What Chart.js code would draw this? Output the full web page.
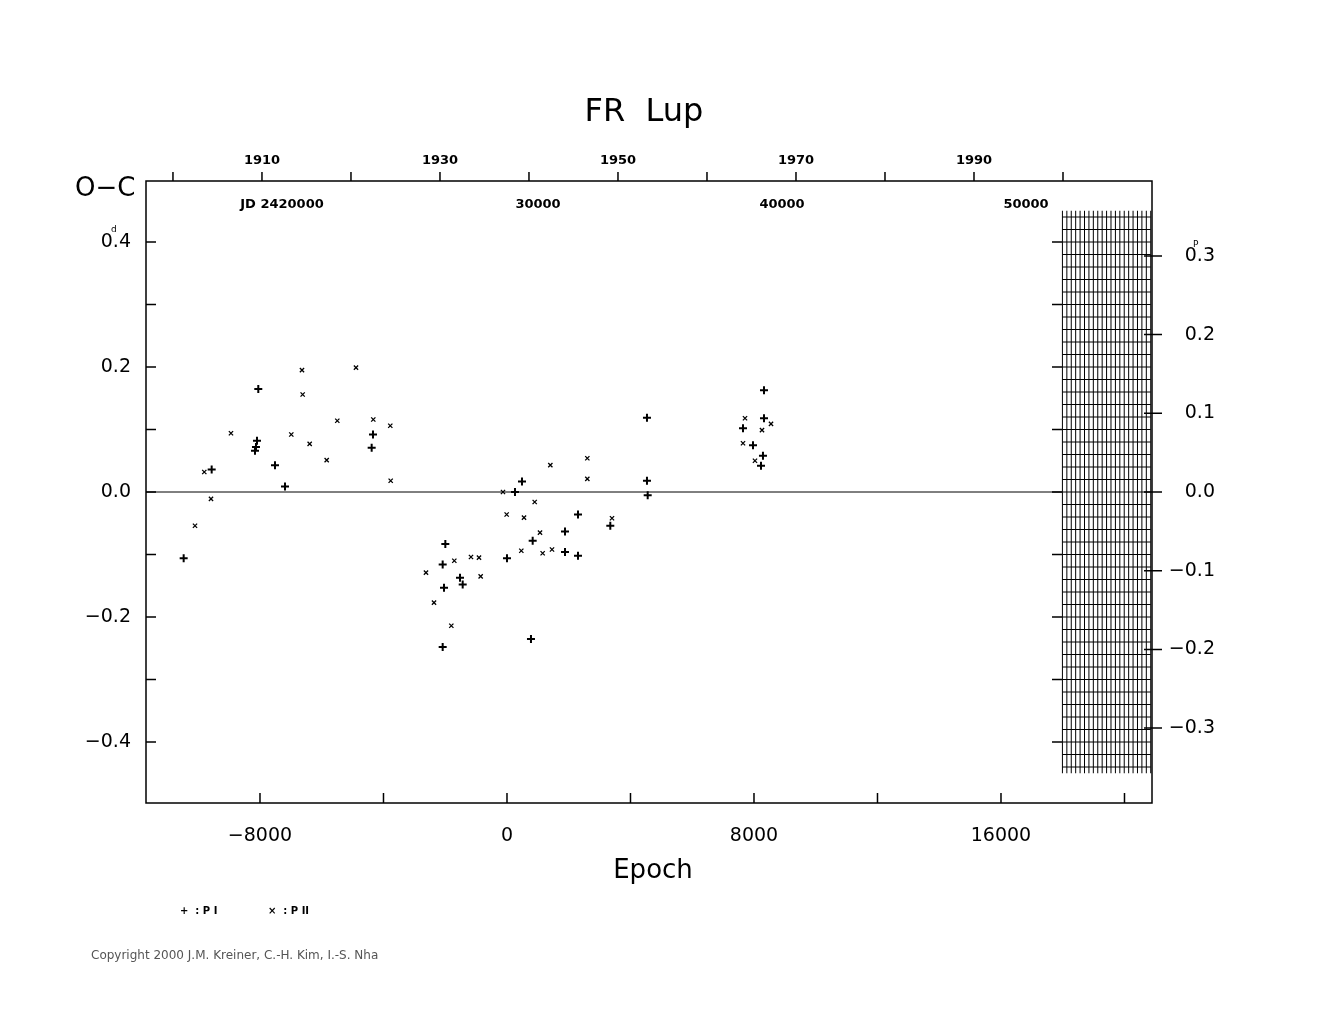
<!DOCTYPE html>
<html>
<head>
<meta charset="utf-8">
<script src="https://cdn.jsdelivr.net/npm/chart.js@4.4.0/dist/chart.umd.min.js"></script>
<style>
  body { margin: 0; background: #fff; }
  canvas { display: block; }
</style>
</head>
<body>
<canvas id="c" width="1325" height="1020"></canvas>
<script>
// FR Lup O-C diagram: epoch vs O-C (days), primary (+) and secondary (x) minima

const primEpoch = [-8055, -8097, -8130, -8162, -9565, -7514, -7190, -4340, -4383, -10472,
  -1997, -2083, -1522, -1435, -2040, -2083, 0, 259, 486, 832, 777, 1879, 1879, 2300, 2300, 3346,
  4534, 4557, 4534, 7644, 8324, 8324, 7968, 8291, 8227];
const primOC = [0.165, 0.082, 0.072, 0.066, 0.036, 0.043, 0.009, 0.092, 0.071, -0.106,
  -0.083, -0.116, -0.137, -0.148, -0.153, -0.248, -0.106, 0.0, 0.017, -0.078, -0.235, -0.063, -0.096, -0.036, -0.102, -0.054,
  0.018, -0.005, 0.119, 0.102, 0.163, 0.118, 0.075, 0.058, 0.042];

const secEpoch = [-9804, -9587, -10105, -8940, -6640, -6618, -6986, -6391, -5496, -5840, -4891, -4330, -3780, -3767,
  -2624, -2364, -1803, -1706, -1166, -907, -853, -130, -11, 551, 897, 464, 1069, 1155, 1458, 1404, 2602, 2602, 3401,
  7709, 7644, 8032, 8259, 8551];
const secOC = [0.032, -0.011, -0.054, 0.094, 0.195, 0.156, 0.092, 0.077, 0.114, 0.051, 0.199, 0.116, 0.106, 0.018,
  -0.129, -0.177, -0.214, -0.110, -0.104, -0.105, -0.135, 0.0, -0.036, -0.041, -0.016, -0.094, -0.065, -0.098, -0.092, 0.043, 0.054, 0.021, -0.042,
  0.118, 0.078, 0.050, 0.099, 0.109];

const leftTicks = [0.4, 0.2, 0.0, -0.2, -0.4];
const leftMinor = [0.3, 0.1, -0.1, -0.3];
const rightTicks = [0.3, 0.2, 0.1, 0.0, -0.1, -0.2, -0.3];
const epochLabels = [-8000, 0, 8000, 16000];
const epochMinor = [-4000, 4000, 12000, 20000];
const yearTicks = [1900, 1910, 1920, 1930, 1940, 1950, 1960, 1970, 1980, 1990, 2000];
const yearLabels = [1910, 1930, 1950, 1970, 1990];
const jdLabels = [20000, 30000, 40000, 50000];

const toPts = (xs, ys) => xs.map((x, i) => ({ x, y: ys[i] }));

const FONT = "'DejaVu Sans', sans-serif";

const frame = {
  id: "frame",
  afterDraw(chart) {
    const { ctx, chartArea: a, scales } = chart;
    const x = scales.x, y = scales.y, y2 = scales.y2, yr = scales.yr, jd = scales.jd;
    ctx.save();
    ctx.strokeStyle = "#000";
    ctx.fillStyle = "#000";
    ctx.lineWidth = 1.5;
    ctx.strokeRect(a.left, a.top, a.right - a.left, a.bottom - a.top);

    // zero line
    ctx.lineWidth = 1;
    ctx.beginPath();
    ctx.moveTo(a.left, y.getPixelForValue(0));
    ctx.lineTo(1062, y.getPixelForValue(0));
    ctx.stroke();

    // grid block on the right
    ctx.lineWidth = 1;
    ctx.beginPath();
    for (let e = 17990; e <= 20850; e += 143) {
      const px = x.getPixelForValue(e);
      ctx.moveTo(px, y.getPixelForValue(0.45));
      ctx.lineTo(px, y.getPixelForValue(-0.45));
    }
    for (let v = -0.44; v <= 0.4401; v += 0.02) {
      const py = y.getPixelForValue(v);
      ctx.moveTo(x.getPixelForValue(17990), py);
      ctx.lineTo(x.getPixelForValue(20850), py);
    }
    ctx.stroke();

    ctx.lineWidth = 1.5;
    ctx.beginPath();
    [...leftTicks, ...leftMinor].forEach(v => {
      const py = y.getPixelForValue(v);
      ctx.moveTo(a.left, py); ctx.lineTo(a.left + 10, py);
      ctx.moveTo(1052, py); ctx.lineTo(1062, py);
    });
    rightTicks.forEach(v => {
      const py = y2.getPixelForValue(v);
      ctx.moveTo(a.right - 8, py); ctx.lineTo(a.right + 10, py);
    });
    [...epochLabels, ...epochMinor].forEach(v => {
      const px = x.getPixelForValue(v);
      ctx.moveTo(px, a.bottom); ctx.lineTo(px, a.bottom - 10);
    });
    yearTicks.forEach(v => {
      const px = yr.getPixelForValue(v);
      ctx.moveTo(px, a.top); ctx.lineTo(px, a.top - 9);
    });
    ctx.stroke();

    // labels
    ctx.textBaseline = "middle";
    ctx.font = "19px " + FONT;
    ctx.textAlign = "right";
    leftTicks.forEach(v => {
      ctx.fillText(v.toFixed(1).replace("-", "\u2212"), 131, y.getPixelForValue(v));
    });
    rightTicks.forEach(v => {
      ctx.fillText(v.toFixed(1).replace("-", "\u2212"), 1215, y2.getPixelForValue(v));
    });
    ctx.textAlign = "left";
    ctx.font = "9px " + FONT;
    ctx.fillText("d", 111, y.getPixelForValue(0.4) - 12);
    ctx.fillText("P", 1193, y2.getPixelForValue(0.3) - 11);

    ctx.font = "19px " + FONT;
    ctx.textAlign = "center";
    epochLabels.forEach(v => {
      ctx.fillText(v === 0 ? "0" : String(v).replace("-", "\u2212"), x.getPixelForValue(v), 836);
    });

    ctx.font = "bold 13px " + FONT;
    yearLabels.forEach(v => ctx.fillText(String(v), yr.getPixelForValue(v), 161));
    jdLabels.forEach(v => {
      const s = v === 20000 ? "JD 2420000" : String(v);
      ctx.fillText(s, jd.getPixelForValue(v) - (v === 20000 ? 12 : 0), 205);
    });

    ctx.font = "32px " + FONT;
    ctx.fillText("FR  Lup", 644, 113);
    ctx.font = "26px " + FONT;
    ctx.fillText("Epoch", 653, 871);
    ctx.textAlign = "left";
    ctx.fillText("O\u2212C", 75, 189);

    ctx.font = "bold 10px " + FONT;
    ctx.fillText("+  : P I", 180, 911);
    ctx.fillText("\u00d7  : P II", 268, 911);
    ctx.font = "12px " + FONT;
    ctx.fillStyle = "#555";
    ctx.fillText("Copyright 2000 J.M. Kreiner, C.-H. Kim, I.-S. Nha", 91, 956);
    ctx.restore();
  }
};

new Chart(document.getElementById("c"), {
  type: "scatter",
  data: {
    datasets: [
      {
        label: "P I",
        data: toPts(primEpoch, primOC),
        pointStyle: "cross",
        pointRadius: 4,
        borderColor: "#000",
        borderWidth: 2,
      },
      {
        label: "P II",
        data: toPts(secEpoch, secOC),
        pointStyle: "crossRot",
        pointRadius: 3,
        borderColor: "#000",
        borderWidth: 1.3,
      },
    ],
  },
  options: {
    responsive: false,
    animation: false,
    layout: { padding: { left: 146, right: 173, top: 181, bottom: 217 } },
    plugins: { legend: { display: false }, tooltip: { enabled: false } },
    scales: {
      x: { type: "linear", min: -11692, max: 20891, display: false },
      y: { type: "linear", min: -0.4976, max: 0.4976, display: false },
      y2: { type: "linear", min: -0.3952, max: 0.3952, display: false },
      yr: { type: "linear", axis: "x", min: 1896.97, max: 2010.0, display: false },
      jd: { type: "linear", axis: "x", min: 13934, max: 55164, display: false },
    },
  },
  plugins: [frame],
});
</script>
</body>
</html>
